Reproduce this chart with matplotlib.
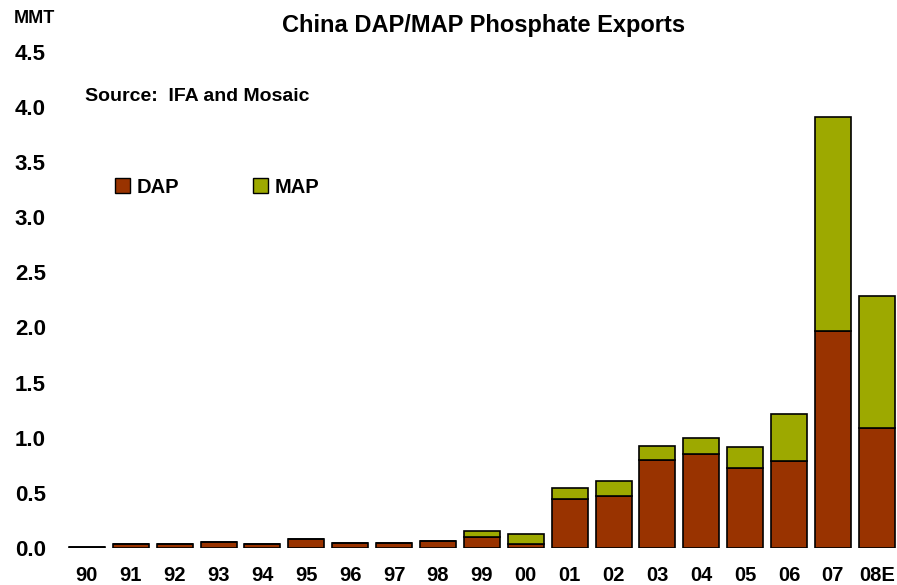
import matplotlib
matplotlib.use("Agg")
from matplotlib import pyplot as plt
from matplotlib.patches import Patch

years = ["90", "91", "92", "93", "94", "95", "96", "97", "98", "99",
         "00", "01", "02", "03", "04", "05", "06", "07", "08E"]
dap = [0.01, 0.03, 0.03, 0.055, 0.03, 0.08, 0.04, 0.04, 0.065, 0.10,
       0.03, 0.445, 0.47, 0.80, 0.85, 0.72, 0.79, 1.97, 1.085]
map_ = [0.0, 0.0, 0.0, 0.0, 0.0, 0.0, 0.0, 0.0, 0.0, 0.05,
        0.09, 0.095, 0.14, 0.12, 0.15, 0.19, 0.42, 1.94, 1.205]
yticks = [0.0, 0.5, 1.0, 1.5, 2.0, 2.5, 3.0, 3.5, 4.0, 4.5]

DAP_COL = "#993300"
MAP_COL = "#9DA900"

plt.rcParams['font.family'] = ['Liberation Sans', 'DejaVu Sans']
plt.rcParams['font.weight'] = 'bold'

fig = plt.figure(figsize=(8.97, 5.85), dpi=100)
ax = fig.add_axes([0.069, 0.0638, 0.931, 0.847])

x = range(len(years))
ax.bar(x, dap, width=0.82, color=DAP_COL, edgecolor="black", linewidth=1.2)
ax.bar(x, map_, bottom=dap, width=0.82, color=MAP_COL, edgecolor="black", linewidth=1.2)

ax.set_xlim(-0.57, 18.46)
ax.set_ylim(0, 4.5)
ax.set_xticks(list(x))
ax.set_xticklabels(years, fontsize=14.5, fontweight='bold')
ax.set_yticks(yticks)
ax.set_yticklabels(["%.1f" % v for v in yticks], fontsize=16, fontweight='bold')
ax.tick_params(axis='x', length=0, pad=13)
ax.tick_params(axis='y', length=0, pad=11.5)
for s in ax.spines.values():
    s.set_visible(False)

fig.text(0.539, 0.956, "China DAP/MAP Phosphate Exports", ha='center', va='center',
         fontsize=17, fontweight='bold')
fig.text(0.015, 0.969, "MMT", ha='left', va='center', fontsize=13, fontweight='bold')
fig.text(0.095, 0.835, "Source:  IFA and Mosaic", ha='left', va='center',
         fontsize=14, fontweight='bold')

handles = [Patch(facecolor=DAP_COL, edgecolor='black'),
           Patch(facecolor=MAP_COL, edgecolor='black')]
fig.legend(handles, ["DAP", "MAP"], loc='center left', bbox_to_anchor=(0.108, 0.68),
           ncol=2, frameon=False, handlelength=0.75, handleheight=0.75,
           handletextpad=0.3, columnspacing=3.7, prop={'weight': 'bold', 'size': 14.5})

fig.savefig("out.png", dpi=100)
